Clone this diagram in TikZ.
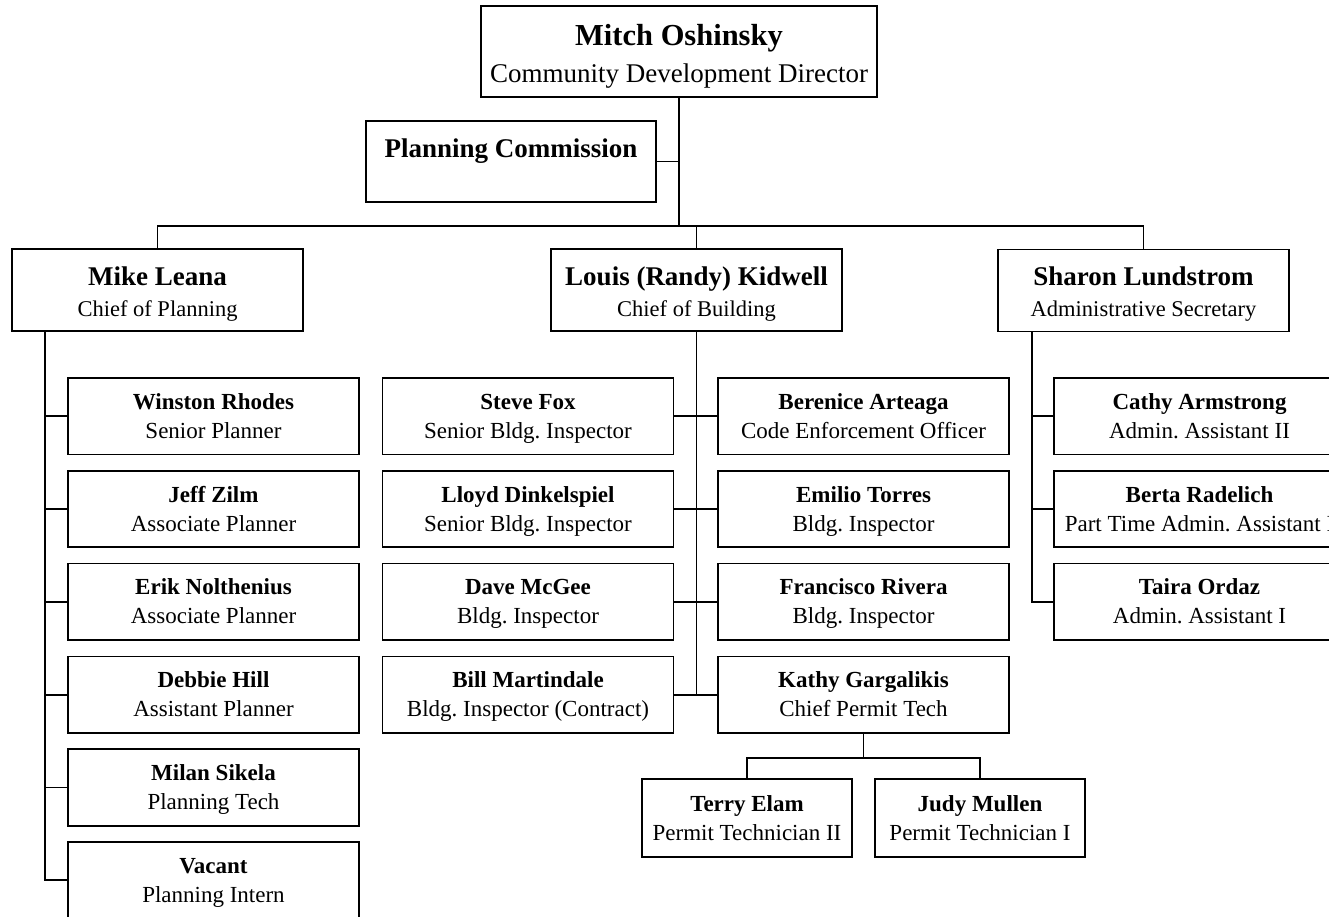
\documentclass[tikz,border=0pt]{standalone}
\usepackage{fontspec}
\setmainfont{Liberation Serif}
\usetikzlibrary{calc}
\frenchspacing

\tikzset{
  orgbox/.style={draw=black, line width=1.7pt, fill=white, rectangle, inner sep=0pt,
                 minimum width=291pt, minimum height=76.5pt},
  headbox/.style={orgbox, minimum height=82pt},
  techbox/.style={orgbox, minimum width=210pt, minimum height=78pt},
  topbox/.style={orgbox, minimum width=396pt, minimum height=91pt},
  link/.style={draw=black, line width=1.8pt},
  txt/.style={anchor=base, inner sep=0pt},
  subname/.style={txt, font=\fontsize{23}{27}\selectfont\bfseries},
  subtitle/.style={txt, font=\fontsize{23}{27}\selectfont},
  headname/.style={txt, font=\fontsize{27}{31}\selectfont\bfseries},
  headtitle/.style={txt, font=\fontsize{22.5}{27}\selectfont},
  topname/.style={txt, font=\fontsize{30.5}{35}\selectfont\bfseries},
  toptitle/.style={txt, font=\fontsize{27}{31}\selectfont},
}

% staff member box: id, x, y, name, title
\newcommand\staffbox[5]{%
  \node[orgbox] (#1) at (#2,#3) {};
  \node[subname] (#1-n) at ($(#1.center)+(0,-7)$) {#4};
  \node[subtitle] (#1-t) at ($(#1.center)+(0,22)$) {#5};
}
\newcommand\techperson[5]{%
  \node[techbox] (#1) at (#2,#3) {};
  \node[subname] (#1-n) at ($(#1.center)+(0,-7)$) {#4};
  \node[subtitle] (#1-t) at ($(#1.center)+(0,22)$) {#5};
}
\newcommand\headperson[5]{%
  \node[headbox] (#1) at (#2,#3) {};
  \node[headname] (#1-n) at ($(#1.center)+(0,-5)$) {#4};
  \node[headtitle] (#1-t) at ($(#1.center)+(0,26)$) {#5};
}

\begin{document}
\begin{tikzpicture}[x=1pt, y=-1pt]
\useasboundingbox[fill=white] (0,0) rectangle (1329,916);

% director and commission
\node[topbox] (mitch) at (679,51.5) {};
\node[topname] (mitch-n) at ($(mitch.center)+(0,-6.5)$) {Mitch Oshinsky};
\node[toptitle] (mitch-t) at ($(mitch.center)+(0,30.5)$) {Community Development Director};

\node[orgbox, minimum width=290pt, minimum height=81pt] (pc) at (511,161.5) {};
\node[headname] (pc-n) at ($(pc.center)+(0,-4.5)$) {Planning Commission};

% division heads
\headperson{mike}{157.5}{290}{Mike Leana}{Chief of Planning}
\headperson{randy}{696.5}{290}{Louis (Randy) Kidwell}{Chief of Building}
\headperson{sharon}{1143.5}{290.5}{Sharon Lundstrom}{Administrative Secretary}

% planning staff
\staffbox{winston}{213.5}{416.2}{Winston Rhodes}{Senior Planner}
\staffbox{jeff}{213.5}{509}{Jeff Zilm}{Associate Planner}
\staffbox{erik}{213.5}{601.8}{Erik Nolthenius}{Associate Planner}
\staffbox{debbie}{213.5}{694.6}{Debbie Hill}{Assistant Planner}
\staffbox{milan}{213.5}{787.4}{Milan Sikela}{Planning Tech}
\staffbox{vacant}{213.5}{880.2}{Vacant}{Planning Intern}

% building staff
\staffbox{steve}{528}{416.2}{Steve Fox}{Senior Bldg. Inspector}
\staffbox{lloyd}{528}{509}{Lloyd Dinkelspiel}{Senior Bldg. Inspector}
\staffbox{dave}{528}{601.8}{Dave McGee}{Bldg. Inspector}
\staffbox{bill}{528}{694.6}{Bill Martindale}{Bldg. Inspector (Contract)}
\staffbox{berenice}{863.5}{416.2}{Berenice Arteaga}{Code Enforcement Officer}
\staffbox{emilio}{863.5}{509}{Emilio Torres}{Bldg. Inspector}
\staffbox{francisco}{863.5}{601.8}{Francisco Rivera}{Bldg. Inspector}
\staffbox{kathy}{863.5}{694.6}{Kathy Gargalikis}{Chief Permit Tech}
\techperson{terry}{747}{818}{Terry Elam}{Permit Technician II}
\techperson{judy}{980}{818}{Judy Mullen}{Permit Technician I}

% administrative staff
\staffbox{cathy}{1199.5}{416.2}{Cathy Armstrong}{Admin. Assistant II}
\staffbox{berta}{1199.5}{509}{Berta Radelich}{Part Time Admin. Assistant I}
\staffbox{taira}{1199.5}{601.8}{Taira Ordaz}{Admin. Assistant I}

% connectors: director level
\coordinate (bus) at (679,226);
\draw[link] (mitch.south) -- (bus);
\draw[link] (pc.east) -- (pc.east -| mitch.south);
\draw[link] (mike.north) |- (bus) -| (sharon.north);
\draw[link] (randy.north) -- (randy.north |- bus);

% planning spine
\draw[link] ($(mike.south west)+(34,0)$) |- (vacant.west);
\foreach \p in {winston,jeff,erik,debbie,milan}
  \draw[link] (\p.west) -- ++(-22,0);

% building spine
\draw[link] (randy.south) -- (randy.south |- bill.east);
\draw[link] (steve.east) -- (berenice.west);
\draw[link] (lloyd.east) -- (emilio.west);
\draw[link] (dave.east) -- (francisco.west);
\draw[link] (bill.east) -- (kathy.west);

% permit technicians
\coordinate (kt) at ($(kathy.south)+(0,24)$);
\draw[link] (kathy.south) -- (kt);
\draw[link] (terry.north) |- (kt) -| (judy.north);

% administrative spine
\draw[link] ($(sharon.south west)+(35,0)$) |- (taira.west);
\draw[link] (cathy.west) -- ++(-21,0);
\draw[link] (berta.west) -- ++(-21,0);
\end{tikzpicture}
\end{document}
